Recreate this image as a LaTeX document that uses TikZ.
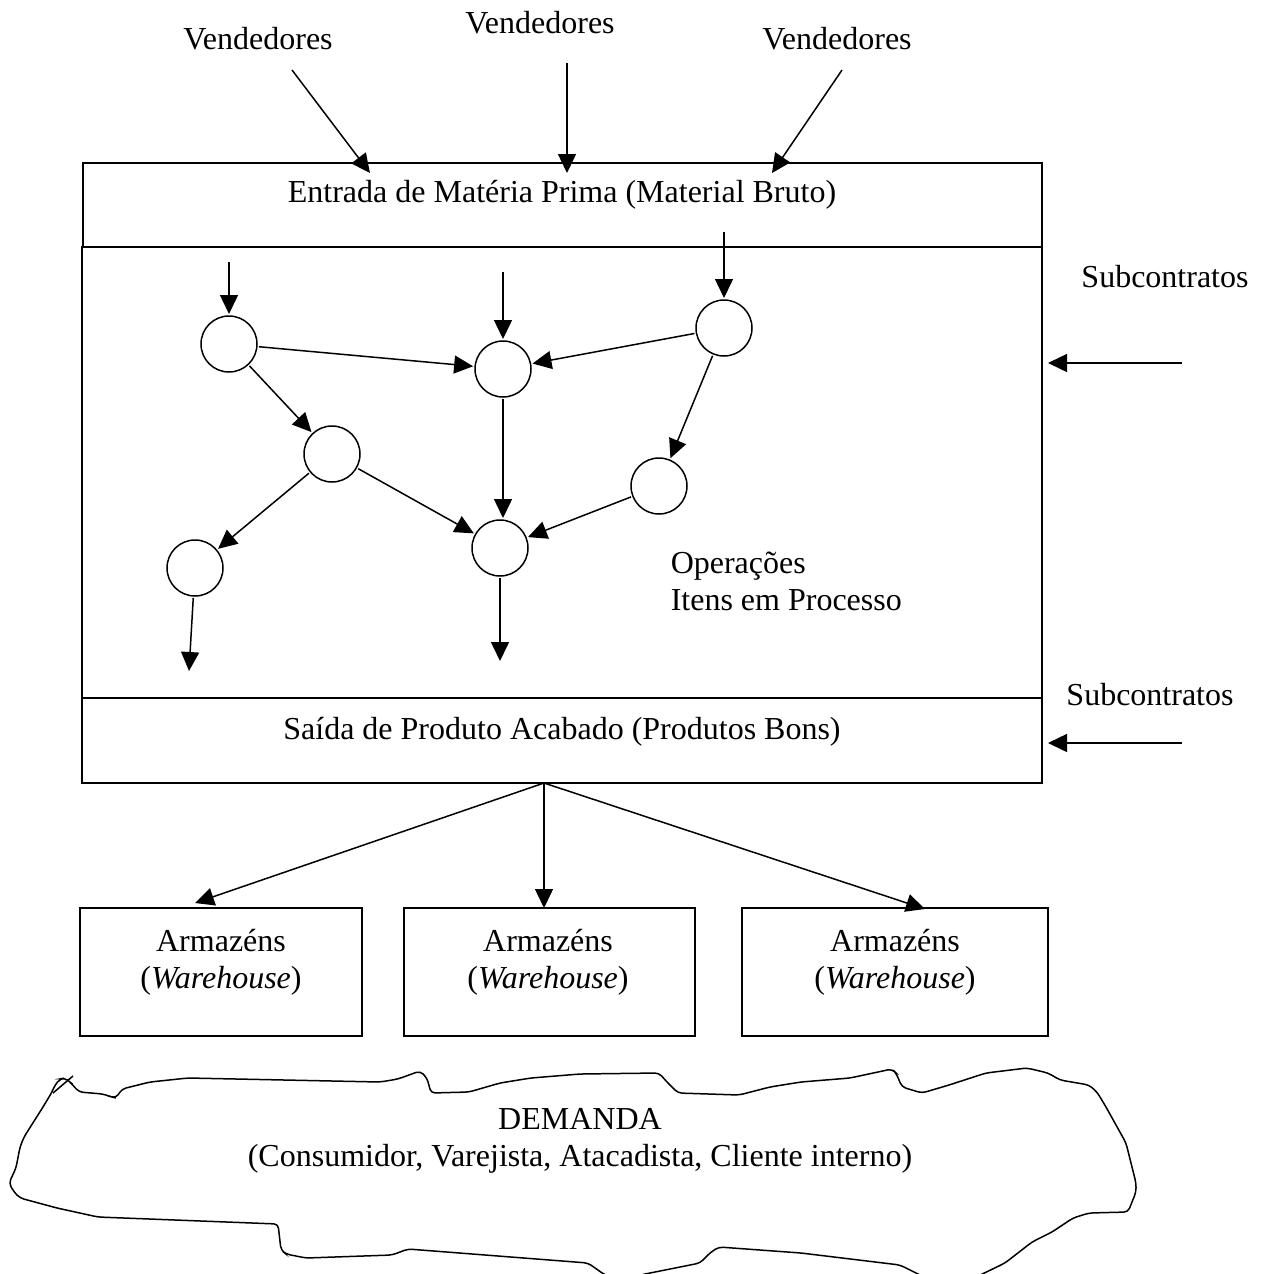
\documentclass[tikz,border=0pt]{standalone}
\usepackage{fontspec}
\setmainfont{Liberation Serif}
\usetikzlibrary{arrows.meta}
\begin{document}
\begin{tikzpicture}[x=1pt,y=-1pt,
  line width=1.5pt,
  lbl/.style={font=\fontsize{32}{37}\selectfont, inner sep=0pt},
  panel/.style={draw, inner sep=0pt, outer sep=0pt, anchor=north west},
  op/.style={draw, circle, minimum size=56pt, inner sep=0pt, outer sep=2pt},
  arr/.style={-{Triangle[length=19pt,width=18pt]}},
]
\useasboundingbox (0,0) rectangle (1265,1274);

% plant: inputs, operations, outputs
\node[panel, minimum width=959, minimum height=84] (entrada) at (83,163) {};
\node[panel, minimum width=960, minimum height=451] (ops) at (82,247) {};
\node[panel, minimum width=960, minimum height=85] (saida) at (82,698) {};
\node[lbl] (tentrada) at (562,195) {Entrada de Matéria Prima (Material Bruto)};
\node[lbl] (tsaida) at (562,732) {Saída de Produto Acabado (Produtos Bons)};
\node[lbl, anchor=base west, align=left] (tops) at (670,610) {Operações\\Itens em Processo};

% suppliers
\node[lbl] (vend1) at (258,39) {Vendedores};
\node[lbl] (vend2) at (540,23) {Vendedores};
\node[lbl] (vend3) at (837,39) {Vendedores};
\coordinate (v1s) at (292,70);  \coordinate (v1e) at (370,173);
\coordinate (v2s) at (567,63);  \coordinate (v2e) at (567,173);
\coordinate (v3s) at (842,70);  \coordinate (v3e) at (772,173);
\draw[arr] (v1s) -- (v1e);
\draw[arr] (v2s) -- (v2e);
\draw[arr] (v3s) -- (v3e);

% subcontracts
\node[lbl] (sub1) at (1165,277) {Subcontratos};
\node[lbl] (sub2) at (1150,695) {Subcontratos};
\coordinate (s1s) at (1182,363); \coordinate (s1e) at (1048,363);
\coordinate (s2s) at (1182,743); \coordinate (s2e) at (1048,743);
\draw[arr] (s1s) -- (s1e);
\draw[arr] (s2s) -- (s2e);

% operations network
\node[op] (c1) at (229,344) {};
\node[op] (c2) at (503,369) {};
\node[op] (c3) at (724,328) {};
\node[op] (c4) at (332,454) {};
\node[op] (c5) at (659,486) {};
\node[op] (c6) at (500,548) {};
\node[op] (c7) at (195,568) {};
\coordinate (c1in) at (229,262);
\coordinate (c2in) at (503,272);
\coordinate (c3in) at (724,232);
\coordinate (c7out) at (189,671);
\coordinate (c6out) at (500,661);
\draw[arr] (c1in) -- (c1);
\draw[arr] (c2in) -- (c2);
\draw[arr] (c3in) -- (c3);
\draw[arr] (c1) -- (c2);
\draw[arr] (c3) -- (c2);
\draw[arr] (c1) -- (c4);
\draw[arr] (c4) -- (c7);
\draw[arr] (c4) -- (c6);
\draw[arr] (c2) -- (c2 |- c6.north);
\draw[arr] (c3) -- (c5);
\draw[arr] (c5) -- (c6);
\draw[arr] (c7) -- (c7out);
\draw[arr] (c6) -- (c6out);

% warehouses
\node[panel, minimum width=282, minimum height=128] (w1) at (80,908) {};
\node[panel, minimum width=291, minimum height=128] (w2) at (404,908) {};
\node[panel, minimum width=306, minimum height=128] (w3) at (742,908) {};
\node[lbl, align=center, anchor=base] (tw1) at (221,988) {Armazéns\\(\textit{Warehouse})};
\node[lbl, align=center, anchor=base] (tw2) at (548,988) {Armazéns\\(\textit{Warehouse})};
\node[lbl, align=center, anchor=base] (tw3) at (895,988) {Armazéns\\(\textit{Warehouse})};
\coordinate (fan) at (544,783);
\coordinate (w1tip) at (195,903);
\coordinate (w2tip) at (544,908);
\coordinate (w3tip) at (925,909);
\draw[arr] (fan) -- (w1tip);
\draw[arr] (fan) -- (w2tip);
\draw[arr] (fan) -- (w3tip);

% demand cloud
\draw[rounded corners=4pt]
  (79,1092) -- (103,1094) -- (112,1097) -- (116,1098) -- (122,1089) -- (150,1082)
  -- (188,1078) -- (380,1082) -- (398,1079) -- (420,1071) -- (427,1078) -- (431,1093)
  -- (469,1092) -- (500,1083) -- (531,1078) -- (580,1074) -- (659,1073) -- (667,1082)
  -- (678,1093) -- (739,1095) -- (770,1087) -- (801,1082) -- (850,1078) -- (892,1069)
  -- (896,1073) -- (902,1087) -- (922,1093) -- (949,1085) -- (986,1073) -- (1027,1068)
  -- (1048,1073) -- (1060,1080) -- (1089,1085) -- (1097,1092) -- (1106,1107) -- (1126,1143)
  -- (1136,1183) -- (1136,1192) -- (1128,1212) -- (1089,1213) -- (1073,1218) -- (1052,1232)
  -- (1032,1242) -- (1005,1263) -- (974,1278) -- (930,1280) -- (916,1273) -- (900,1265)
  -- (801,1253) -- (719,1247) -- (711,1252) -- (700,1263) -- (645,1274) -- (620,1280)
  -- (605,1275) -- (588,1263) -- (408,1249) -- (392,1255) -- (306,1258) -- (286,1254)
  -- (281,1250) -- (278,1224) -- (98,1217) -- (57,1208) -- (20,1198) -- (14,1192)
  -- (9,1183) -- (16,1168) -- (20,1147) -- (24,1137) -- (43,1107) -- (49,1097)
  -- (52,1092) -- (55,1085) -- (60,1079) -- (65,1078) -- (70,1082) -- cycle;
\draw (73,1076) -- (53,1093);
\node[lbl, align=center] (tdemanda) at (580,1141) {DEMANDA\\(Consumidor, Varejista, Atacadista, Cliente interno)};
\end{tikzpicture}
\end{document}
